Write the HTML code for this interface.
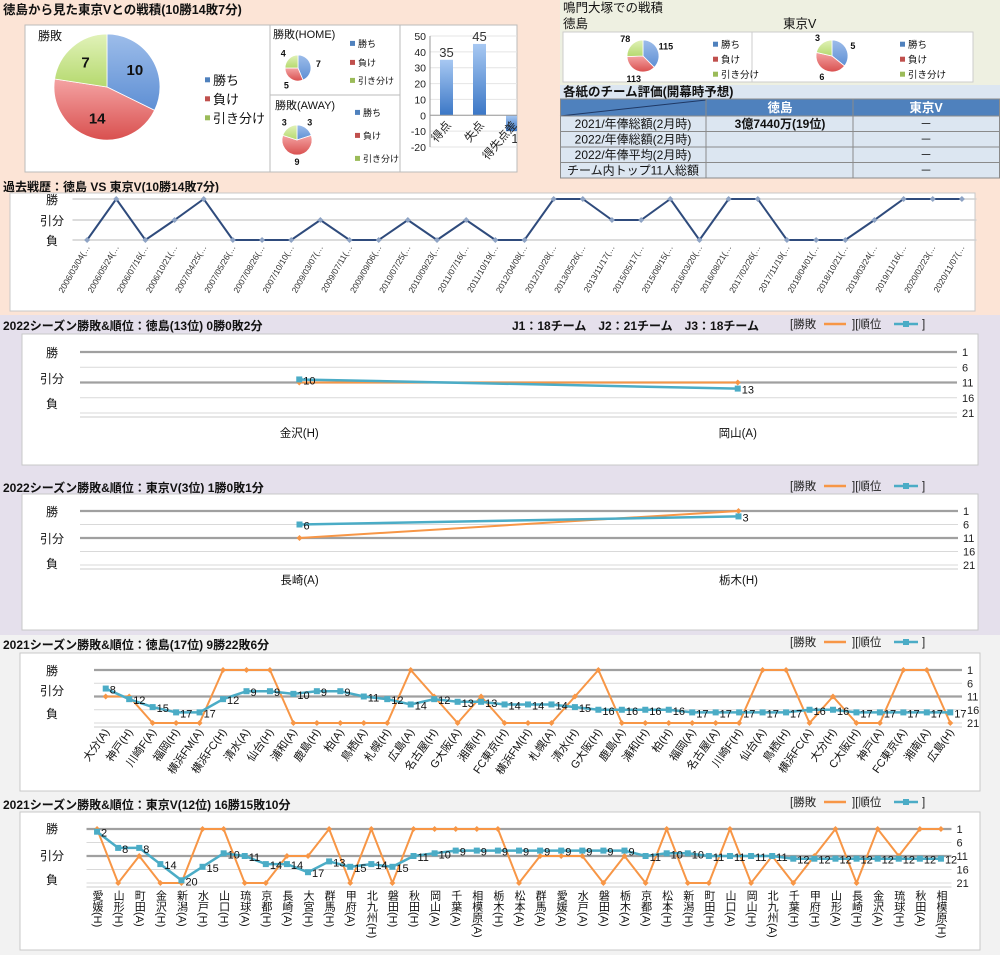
<!DOCTYPE html>
<html><head><meta charset="utf-8">
<style>
html,body{margin:0;padding:0;background:#fff}
svg{display:block;font-family:"Liberation Sans","Noto Sans CJK JP",sans-serif}
</style></head>
<body>
<svg id="root" width="1000" height="955" viewBox="0 0 1000 955" xmlns="http://www.w3.org/2000/svg">
<defs>
<linearGradient id="gBlue" x1="0" y1="0" x2="0" y2="1"><stop offset="0" stop-color="#9dbdea"/><stop offset="1" stop-color="#5e8fd4"/></linearGradient>
<linearGradient id="gRed" x1="0" y1="0" x2="0" y2="1"><stop offset="0" stop-color="#f4a3a3"/><stop offset="1" stop-color="#d9504f"/></linearGradient>
<linearGradient id="gGreen" x1="0" y1="0" x2="0" y2="1"><stop offset="0" stop-color="#e1f2b9"/><stop offset="1" stop-color="#b5d96e"/></linearGradient>
<linearGradient id="gBar" x1="0" y1="0" x2="0" y2="1"><stop offset="0" stop-color="#a7c8f2"/><stop offset="1" stop-color="#3b77c6"/></linearGradient>
<clipPath id="barClip"><rect x="400" y="25" width="117" height="147"/></clipPath>
</defs>
<!-- backgrounds -->
<rect x="0" y="0" width="560" height="180" fill="#fce4d6"/>
<rect x="560" y="0" width="440" height="85" fill="#eef0e1"/>
<rect x="560" y="85" width="440" height="95" fill="#dce6f1"/>
<rect x="0" y="178" width="1000" height="137" fill="#fce4d6"/>
<rect x="0" y="315" width="1000" height="320" fill="#e5e0ec"/>
<rect x="0" y="635" width="1000" height="320" fill="#f2f2f2"/>

<text x="3" y="14" font-size="12.5" font-weight="bold" fill="#111">徳島から見た東京Vとの戦積(10勝14敗7分)</text>
<rect x="25" y="25" width="245" height="147" fill="#fff" stroke="#bbb"/>
<text x="38" y="40" font-size="12" fill="#111">勝敗</text>
<rect x="270" y="25" width="130" height="70" fill="#fff" stroke="#bbb"/>
<text x="273" y="38" font-size="11" fill="#111">勝敗(HOME)</text>
<rect x="270" y="95" width="130" height="77" fill="#fff" stroke="#bbb"/>
<text x="275" y="109" font-size="11" fill="#111">勝敗(AWAY)</text>
<rect x="400" y="25" width="117" height="147" fill="#fff" stroke="#bbb"/>

<text x="563" y="12" font-size="12.5" fill="#111">鳴門大塚での戦積</text>
<text x="563" y="28" font-size="12.5" fill="#111">徳島</text>
<text x="783" y="28" font-size="12.5" fill="#111">東京V</text>
<rect x="563" y="32" width="189" height="50" fill="#fff" stroke="#ccc"/>
<rect x="752" y="32" width="221" height="50" fill="#fff" stroke="#ccc"/>
<text x="563" y="96" font-size="12.5" font-weight="bold" fill="#111">各紙のチーム評価(開幕時予想)</text>
<g id="table">
<rect x="560" y="99" width="440" height="17" fill="#4f81bd"/>
<line x1="560" y1="116" x2="706" y2="100" stroke="#1f3864" stroke-width="1"/>
<text x="780" y="112" font-size="12.5" font-weight="bold" fill="#fff" text-anchor="middle">徳島</text>
<text x="926" y="112" font-size="12.5" font-weight="bold" fill="#fff" text-anchor="middle">東京V</text>
<g stroke="#8a8a8a" stroke-width="1" fill="none">
<rect x="560.5" y="99" width="439" height="79"/>
<line x1="706" y1="99" x2="706" y2="178"/>
<line x1="853" y1="99" x2="853" y2="178"/>
<line x1="560" y1="116" x2="1000" y2="116"/>
<line x1="560" y1="131.5" x2="1000" y2="131.5"/>
<line x1="560" y1="147" x2="1000" y2="147"/>
<line x1="560" y1="162.5" x2="1000" y2="162.5"/>
</g>
<g font-size="12" fill="#111" text-anchor="middle">
<text x="633" y="128">2021/年俸総額(2月時)</text>
<text x="633" y="143.5">2022/年俸総額(2月時)</text>
<text x="633" y="159">2022/年俸平均(2月時)</text>
<text x="633" y="174.5">チーム内トップ11人総額</text>
<text x="780" y="128" font-weight="bold">3億7440万(19位)</text>
<text x="926" y="128">－</text>
<text x="926" y="143.5">－</text>
<text x="926" y="159">－</text>
<text x="926" y="174.5">－</text>
</g>
</g>

<text x="3" y="191" font-size="12" font-weight="bold" fill="#111">過去戦歴：徳島 VS 東京V(10勝14敗7分)</text>
<rect x="10" y="193" width="965" height="118" fill="#fff" stroke="#c8c8c8"/>

<text x="3" y="330" font-size="12" font-weight="bold" fill="#111">2022シーズン勝敗&amp;順位：徳島(13位) 0勝0敗2分</text>
<text x="512" y="330" font-size="12" font-weight="bold" fill="#111">J1：18チーム　J2：21チーム　J3：18チーム</text>
<rect x="22" y="334" width="956" height="131" fill="#fff" stroke="#c8c8c8"/>
<text x="3" y="492" font-size="12" font-weight="bold" fill="#111">2022シーズン勝敗&amp;順位：東京V(3位) 1勝0敗1分</text>
<rect x="22" y="494" width="956" height="136" fill="#fff" stroke="#c8c8c8"/>
<text x="3" y="649" font-size="12" font-weight="bold" fill="#111">2021シーズン勝敗&amp;順位：徳島(17位) 9勝22敗6分</text>
<rect x="20" y="653" width="960" height="138" fill="#fff" stroke="#c8c8c8"/>
<text x="3" y="809" font-size="12" font-weight="bold" fill="#111">2021シーズン勝敗&amp;順位：東京V(12位) 16勝15敗10分</text>
<rect x="20" y="812" width="960" height="138" fill="#fff" stroke="#c8c8c8"/>
<g id="charts"></g>
</svg>
<script>
// ---------- data ----------
const pieLabels = ['勝ち','負け','引き分け'];
const pieMain = [10,14,7];
const pieHome = [7,5,4];
const pieAway = [3,9,3];
const pieStadiumTokushima = [115,113,78];
const pieStadiumTokyoV = [5,6,3];
const barCats = ['得点','失点','得失点差'];
const barValues = [35,45,-10];
const barTicks = [50,40,30,20,10,0,-10,-20];

const histDates = ['2006/03/04','2006/05/24','2006/07/16','2006/10/21','2007/04/25','2007/05/26','2007/08/26','2007/10/10','2009/03/07','2009/07/11','2009/09/06','2010/07/25','2010/09/23','2011/07/16','2011/10/19','2012/04/08','2012/10/28','2013/05/26','2013/11/17','2015/05/17','2015/08/15','2016/03/20','2016/08/21','2017/02/26','2017/11/19','2018/04/01','2018/10/21','2019/03/24','2019/11/16','2020/02/23','2020/11/07'];
const histResults = ['L','W','L','D','W','L','L','L','D','L','L','D','L','D','L','L','W','W','D','D','W','L','W','W','L','L','L','D','W','W','W'];

const rankTicks = [1,6,11,16,21];

const tk22Cats = ['金沢(H)','岡山(A)'];
const tk22Results = ['D','D'];
const tk22Ranks = [10,13];

const tv22Cats = ['長崎(A)','栃木(H)'];
const tv22Results = ['D','W'];
const tv22Ranks = [6,3];

const tk21Cats = ['大分(A)','神戸(H)','川崎F(A)','福岡(H)','横浜FM(A)','横浜FC(H)','清水(A)','仙台(H)','浦和(A)','鹿島(H)','柏(A)','鳥栖(A)','札幌(H)','広島(A)','名古屋(H)','G大阪(A)','湘南(H)','FC東京(H)','横浜FM(H)','札幌(A)','清水(H)','G大阪(H)','鹿島(A)','浦和(H)','柏(H)','福岡(A)','名古屋(A)','川崎F(H)','仙台(A)','鳥栖(H)','横浜FC(A)','大分(H)','C大阪(H)','神戸(A)','FC東京(A)','湘南(A)','広島(H)'];
const tk21Results = ['D','D','L','L','L','W','W','W','L','L','L','L','L','W','D','L','D','L','L','L','D','W','L','L','L','L','L','L','W','W','L','D','L','L','W','W','L'];
const tk21Ranks = [8,12,15,17,17,12,9,9,10,9,9,11,12,14,12,13,13,14,14,14,15,16,16,16,16,17,17,17,17,17,16,16,17,17,17,17,17];

const tv21Cats = ['愛媛(H)','山形(H)','町田(A)','金沢(H)','新潟(A)','水戸(H)','山口(H)','琉球(A)','京都(H)','長崎(A)','大宮(H)','群馬(H)','甲府(A)','北九州(H)','磐田(H)','秋田(H)','岡山(A)','千葉(A)','相模原(A)','栃木(H)','松本(A)','群馬(A)','愛媛(A)','水戸(A)','磐田(A)','栃木(A)','京都(A)','松本(H)','新潟(H)','町田(H)','山口(A)','岡山(H)','北九州(A)','千葉(H)','甲府(H)','山形(A)','長崎(H)','金沢(A)','琉球(H)','秋田(A)','相模原(H)'];
const tv21Results = ['W','L','D','L','L','W','W','L','L','D','D','W','L','W','L','W','W','W','W','W','L','D','D','D','L','D','L','W','L','L','W','L','D','L','D','W','L','W','D','W','W'];
const tv21Ranks = [2,8,8,14,20,15,10,11,14,14,17,13,15,14,15,11,10,9,9,9,9,9,9,9,9,9,11,10,10,11,11,11,11,12,12,12,12,12,12,12,12];

// ---------- helpers ----------
const NS='http://www.w3.org/2000/svg';
const root=document.getElementById('charts');
function mk(parent,tag,attrs,txt){const e=document.createElementNS(NS,tag);for(const k in attrs)e.setAttribute(k,attrs[k]);if(txt!=null)e.textContent=txt;parent.appendChild(e);return e;}
const pieFills=['url(#gBlue)','url(#gRed)','url(#gGreen)'];
const legendColors=['#4f81bd','#c0504d','#9bbb59'];

function drawPie(cx,cy,r,vals,labFactor,fs,bold){
  const g=mk(root,'g',{});
  
  
  const tot=vals.reduce((a,b)=>a+b,0);
  let a0=-Math.PI/2;
  vals.forEach((v,i)=>{
    const a1=a0+v/tot*2*Math.PI;
    const large=(a1-a0)>Math.PI?1:0;
    const d='M'+cx+','+cy+'L'+(cx+r*Math.cos(a0))+','+(cy+r*Math.sin(a0))+'A'+r+','+r+' 0 '+large+' 1 '+(cx+r*Math.cos(a1))+','+(cy+r*Math.sin(a1))+'Z';
    const s=mk(g,'path',{d:d,fill:pieFills[i],stroke:'#fff','stroke-width':0.8});
    
    
    const am=(a0+a1)/2;
    const t=mk(g,'text',{x:cx+r*labFactor*Math.cos(am),y:cy+r*labFactor*Math.sin(am)+fs*0.35,'font-size':fs,'font-weight':bold?'bold':'normal','text-anchor':'middle',fill:'#111'},String(v));
    
    
    a0=a1;
  });
}
function drawLegend(x,ys,fs){
  ys.forEach((y,i)=>{
    const sq=mk(root,'rect',{x:x,y:y-fs*0.4-2.5,width:5,height:5,fill:legendColors[i]});
    
    
    const t=mk(root,'text',{x:x+8,y:y,'font-size':fs,fill:'#111'},pieLabels[i]);
    
    
  });
}

// pies
drawPie(107,87,53,pieMain,0.62,15,true);
drawLegend(205,[85,104,123],13);
drawPie(298,68,13,pieHome,1.6,9,true);
drawLegend(350,[47,66,84],9);
drawPie(297,140,15,pieAway,1.45,9,true);
drawLegend(355,[116,139,162],9);
drawPie(643,56,16,pieStadiumTokushima,1.55,9,true);
drawLegend(713,[48,63,78],9.5);
drawPie(832,56,16,pieStadiumTokyoV,1.45,9,true);
drawLegend(900,[48,63,78],9.5);

// bar chart
(function(){
  const g=mk(root,'g',{'clip-path':'url(#barClip)'});
  
  
  const x0=430, step=33, yTop=36, yBot=147, vMax=50, vMin=-20;
  const yAt=v=>yTop+(vMax-v)/(vMax-vMin)*(yBot-yTop);
  barTicks.forEach(v=>{
    const gl=mk(g,'line',{x1:x0,x2:517,y1:yAt(v),y2:yAt(v),stroke:'#e4e4e4'});
    
    
    const t=mk(g,'text',{x:x0-4,y:yAt(v)+4,'font-size':10.5,'text-anchor':'end',fill:'#222'},String(v));
    
    
  });
  const ax=mk(g,'line',{x1:x0,x2:x0,y1:yTop,y2:yBot,stroke:'#999'});
  
  
  barValues.forEach((v,i)=>{
    const cx=x0+step*(i+0.5);
    const y1=yAt(Math.max(v,0)), y2=yAt(Math.min(v,0));
    const b=mk(g,'rect',{x:cx-6.5,y:y1,width:13,height:y2-y1,fill:'url(#gBar)'});
    
    
    const t=mk(g,'text',{x:v>=0?cx:cx+6,y:v>=0?y1-3:y2+12,'font-size':13,'text-anchor':'middle',fill:'#333'},String(Math.abs(v)===v?v:Math.abs(v)));
    
    
    const c=mk(g,'text',{x:cx+5,y:yAt(0)+10,'font-size':11.5,'text-anchor':'end',fill:'#222',transform:'rotate(-50 '+(cx+5)+' '+(yAt(0)+10)+')'},barCats[i]);
    
    
  });
  const zl=mk(g,'line',{x1:x0,x2:517,y1:yAt(0),y2:yAt(0),stroke:'#999'});
  
  
})();

// history chart
(function(){
  const g=mk(root,'g',{});
  
  
  const x0=72.5,x1=976.5,n=histDates.length,step=(x1-x0)/n;
  const resY={W:199,D:220,L:240};
  const xAt=i=>x0+step*(i+0.5);
  [['勝','W'],['引分','D'],['負','L']].forEach(p=>{
    const gl=mk(g,'line',{x1:x0,x2:x1,y1:resY[p[1]],y2:resY[p[1]],stroke:'#d0d0d0','stroke-width':1.5});
    
    
    const t=mk(g,'text',{x:52,y:resY[p[1]]+5,'font-size':12,'text-anchor':'middle',fill:'#111'},p[0]);
    
    
  });
  const d=histResults.map((r,i)=>(i?'L':'M')+xAt(i)+','+resY[r]).join('');
  const ln=mk(g,'path',{d:d,fill:'none',stroke:'#2f4b7c','stroke-width':2});
  
  
  histResults.forEach((r,i)=>{
    const x=xAt(i),y=resY[r];
    const m=mk(g,'path',{d:'M'+x+','+(y-3)+'L'+(x+3)+','+y+'L'+x+','+(y+3)+'L'+(x-3)+','+y+'Z',fill:'#8ea3c4'});
    
    
    const tx=x+3, ty=247;
    const t=mk(g,'text',{x:tx,y:ty,'font-size':8.5,'text-anchor':'end',fill:'#333',transform:'rotate(-60 '+tx+' '+ty+')'},histDates[i]+'(…');
    
    
  });
})();

// rank charts
function rankChart(cats,res,ranks,c){
  const g=mk(root,'g',{});
  
  
  const n=cats.length,step=(c.x1-c.x0)/n;
  const xAt=i=>c.x0+step*(i+0.5);
  const yAt=r=>c.y1+(r-1)/20*(c.y21-c.y1);
  const resRank={W:1,D:11,L:21};
  rankTicks.forEach(r=>{
    const heavy=(r===1||r===11);
    const gl=mk(g,'line',{x1:c.x0,x2:c.x1,y1:yAt(r),y2:yAt(r),stroke:heavy?'#a0a0a0':'#d9d9d9','stroke-width':heavy?2.2:1});
    
    
    const t=mk(g,'text',{x:c.x1+5,y:yAt(r)+4,'font-size':11,fill:'#222'},String(r));
    
    
  });
  [['勝',c.yW],['引分',c.yD],['負',c.yL]].forEach(p=>{
    const t=mk(g,'text',{x:52,y:p[1]+5,'font-size':12,'text-anchor':'middle',fill:'#111'},p[0]);
    
    
  });
  const od=res.map((r,i)=>(i?'L':'M')+xAt(i)+','+yAt(resRank[r])).join('');
  const ol=mk(g,'path',{d:od,fill:'none',stroke:'#f79646','stroke-width':2});
  
  
  res.forEach((r,i)=>{
    const x=xAt(i),y=yAt(resRank[r]);
    const m=mk(g,'path',{d:'M'+x+','+(y-3)+'L'+(x+3)+','+y+'L'+x+','+(y+3)+'L'+(x-3)+','+y+'Z',fill:'#f79646'});
    
    
  });
  const td=ranks.map((r,i)=>(i?'L':'M')+xAt(i)+','+yAt(r)).join('');
  const tl=mk(g,'path',{d:td,fill:'none',stroke:'#4bacc6','stroke-width':2.5});
  
  
  ranks.forEach((r,i)=>{
    const x=xAt(i),y=yAt(r);
    const m=mk(g,'rect',{x:x-3,y:y-3,width:6,height:6,fill:'#4bacc6'});
    
    
    const t=mk(g,'text',{x:x+4,y:y+5,'font-size':11,fill:'#111'},String(r));
    
    
  });
  const ax=mk(g,'line',{x1:c.x0,x2:c.x1,y1:c.y21+4,y2:c.y21+4,stroke:'#ccc'});
  
  
  cats.forEach((cat,i)=>{
    const x=xAt(i);
    let t;
    if(c.mode==='h'){
      t=mk(g,'text',{x:x,y:c.labelY,'font-size':11.5,'text-anchor':'middle',fill:'#111'},cat);
    }else if(c.mode==='r'){
      const tx=x+4,ty=c.labelY;
      t=mk(g,'text',{x:tx,y:ty,'font-size':11,'text-anchor':'end',fill:'#111',transform:'rotate(-55 '+tx+' '+ty+')'},cat);
    }else{
      t=mk(g,'text',{x:x,y:c.labelY,'font-size':11,fill:'#111',style:'writing-mode:vertical-rl'},cat);
    }
    
    
  });
  // legend
  const lx=790, ly=c.legendY;
  const l1=mk(g,'text',{x:lx,y:ly,'font-size':11.5,fill:'#222'},'[勝敗');
  
  
  const l1l=mk(g,'line',{x1:lx+34,x2:lx+56,y1:ly-4,y2:ly-4,stroke:'#f79646','stroke-width':2.5});
  
  
  const l2=mk(g,'text',{x:lx+62,y:ly,'font-size':11.5,fill:'#222'},'][順位');
  
  
  const l2l=mk(g,'line',{x1:lx+104,x2:lx+128,y1:ly-4,y2:ly-4,stroke:'#4bacc6','stroke-width':2.5});
  
  
  const l2m=mk(g,'rect',{x:lx+113,y:ly-7,width:6,height:6,fill:'#4bacc6'});
  
  
  const l3=mk(g,'text',{x:lx+132,y:ly,'font-size':11.5,fill:'#222'},']');
  
  
}
rankChart(tk22Cats,tk22Results,tk22Ranks,{name:'tokushima-2022-chart',x0:80,x1:957,y1:352,y21:413,yW:352,yD:378,yL:403,mode:'h',labelY:437,legendY:328});
rankChart(tv22Cats,tv22Results,tv22Ranks,{name:'tokyov-2022-chart',x0:80,x1:958,y1:511,y21:565,yW:511,yD:538,yL:563,mode:'h',labelY:584,legendY:490});
rankChart(tk21Cats,tk21Results,tk21Ranks,{name:'tokushima-2021-chart',x0:94,x1:962,y1:670,y21:723,yW:670,yD:690,yL:713,mode:'r',labelY:732,legendY:646});
rankChart(tv21Cats,tv21Results,tv21Ranks,{name:'tokyov-2021-chart',x0:86.5,x1:951.5,y1:829,y21:883,yW:828,yD:855,yL:879,mode:'v',labelY:890,legendY:806});
</script>
</body></html>
